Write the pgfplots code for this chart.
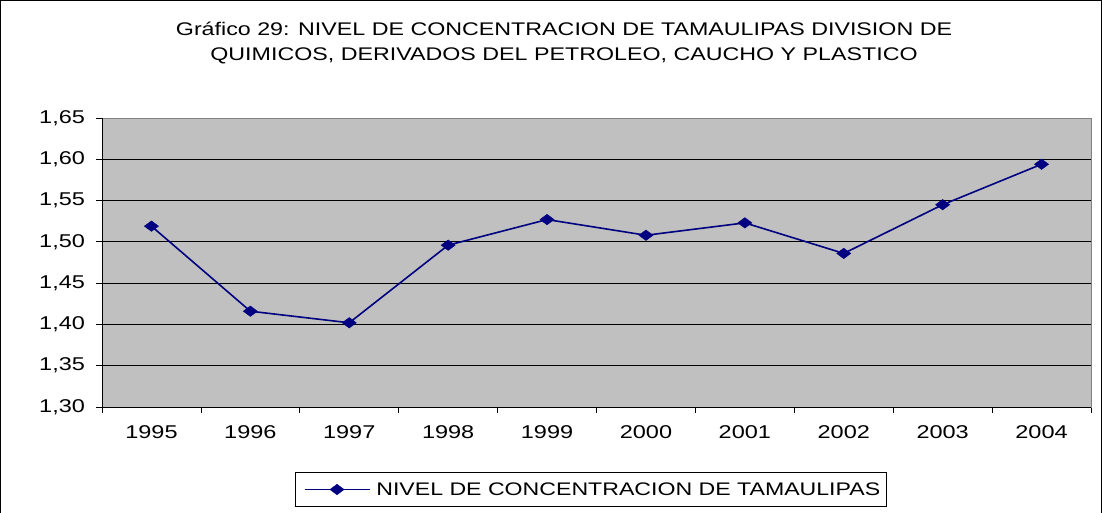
\documentclass[border=0pt]{standalone}
\usepackage{fontspec}
\setmainfont{Liberation Sans}[FakeStretch=1.27]
\usepackage{pgfplots}
\pgfplotsset{compat=1.18}
\definecolor{navy}{RGB}{0,0,128}
\definecolor{plotbg}{RGB}{192,192,192}
\definecolor{bordergray}{RGB}{128,128,128}
\begin{document}
\begin{tikzpicture}
\useasboundingbox (0,0) rectangle (1103pt,512pt);
\draw[black, line width=1pt] (0.8pt,-5pt) -- (0.8pt,511.2pt) -- (1101.5pt,511.2pt) -- (1101.5pt,-5pt);
\node[align=center, font=\fontsize{18.3}{25}\selectfont] at (564pt,469pt)
  {Gráfico 29: NIVEL DE CONCENTRACION DE TAMAULIPAS DIVISION DE\\QUIMICOS, DERIVADOS DEL PETROLEO, CAUCHO Y PLASTICO};
\begin{axis}[
  at={(102pt,105pt)}, anchor=south west,
  scale only axis, width=989pt, height=289pt,
  xmin=0.5, xmax=10.5, ymin=1.30, ymax=1.65,
  xtick={0.5,1.5,...,10.5},
  xticklabels={1995,1996,1997,1998,1999,2000,2001,2002,2003,2004},
  x tick label as interval,
  ytick={1.3,1.35,1.4,1.45,1.5,1.55,1.6,1.65},
  xtick pos=bottom, ytick pos=left,
  tick align=outside, major tick length=5.5pt,
  tick style={black, line width=0.8pt},
  ymajorgrids, grid style={black, line width=0.8pt},
  axis line style={draw=bordergray, line width=0.8pt},
  axis background/.style={fill=plotbg},
  tick label style={font=\fontsize{18.5}{20}\selectfont},
  yticklabel style={xshift=-8pt, /pgf/number format/.cd, fixed, fixed zerofill, precision=2, use comma, assume math mode=true},
  xticklabel style={yshift=-10pt, /pgf/number format/assume math mode=true},
  legend style={at={(0.4944,-0.2855)}, anchor=center, draw=black, line width=0.8pt,
    font=\fontsize{18.2}{20}\selectfont, inner xsep=4pt, inner ysep=8pt},
  legend image code/.code={\path (0pt,0pt) (73pt,0pt); \draw[mark repeat=2, mark phase=2, #1] plot coordinates {(4pt,0pt) (36.5pt,0pt) (69pt,0pt)};},
]
\addplot[navy, line width=1.6pt, mark=diamond*, mark size=5.2pt, mark options={xscale=1.8, fill=navy, line width=0.5pt}]
  coordinates {(1,1.519) (2,1.416) (3,1.402) (4,1.496) (5,1.527) (6,1.508) (7,1.523) (8,1.486) (9,1.545) (10,1.594)};
\addlegendentry{NIVEL DE CONCENTRACION DE TAMAULIPAS}
\draw[black, line width=0.8pt] (rel axis cs:0,1) -- (rel axis cs:0,0) -- (rel axis cs:1,0);
\end{axis}
\end{tikzpicture}
\end{document}
